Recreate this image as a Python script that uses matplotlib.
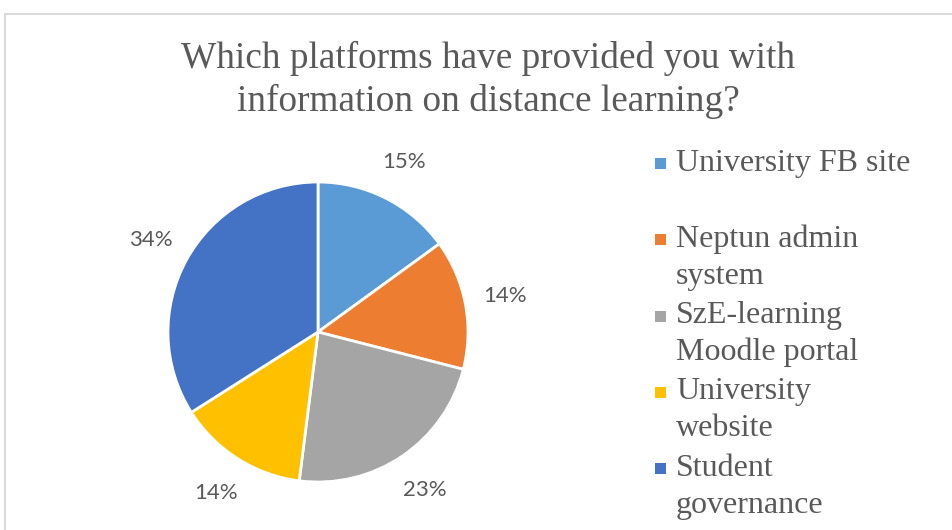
import matplotlib.pyplot as plt
from matplotlib.patches import Rectangle

# survey answers, share of respondents (%)
platforms = ['University FB site', 'Neptun admin\nsystem', 'SzE-learning\nMoodle portal',
             'University\nwebsite', 'Student\ngovernance']
shares = [15, 14, 23, 14, 34]
colors = ['#5B9BD5', '#ED7D31', '#A5A5A5', '#FFC000', '#4472C4']
title = 'Which platforms have provided you with\ninformation on distance learning?'

W, H = 952, 530
fig = plt.figure(figsize=(W / 100, H / 100), dpi=100)
fig.patch.set_facecolor('white')

# chart area border (cut off on the right and bottom)
fig.patches.append(Rectangle((5 / W, -0.05), 1.1, 1 - 14 / H + 0.05, transform=fig.transFigure,
                             fill=False, edgecolor='#d9d9d9', linewidth=1.5))

fig.text(488 / W, 1 - 80 / H, title, ha='center', va='center', fontsize=26.8,
         family='Liberation Serif', color='#595959', linespacing=1.27)

# pie centred at (318, 332) px, radius 150 px
cx, cy, r = 318, 332, 150
ax = fig.add_axes([(cx - r) / W, (H - cy - r) / H, 2 * r / W, 2 * r / H])
wedges, texts, autotexts = ax.pie(shares, colors=colors, startangle=90, counterclock=False,
                                  autopct=lambda p: f'{p:.0f}%', pctdistance=1.27,
                                  wedgeprops=dict(edgecolor='white', linewidth=2))
for t in autotexts:
    t.set_fontfamily('Lato')
    t.set_fontsize(16)
    t.set_color('#595959')
ax.set_xlim(-1, 1)
ax.set_ylim(-1, 1)
ax.set_aspect('equal')
ax.axis('off')

# legend, one slot per platform, marker next to the first line
slot_top = 163
slot_step = 76.3
for i, (lab, col) in enumerate(zip(platforms, colors)):
    y = slot_top + i * slot_step
    fig.patches.append(Rectangle((655 / W, 1 - (y + 6) / H), 11 / W, 11 / H,
                                 transform=fig.transFigure, facecolor=col, edgecolor='none'))
    for j, line in enumerate(lab.split('\n')):
        fig.text(676 / W, 1 - (y + j * 37) / H, line, ha='left', va='center',
                 fontsize=23, family='Liberation Serif', color='#595959')

fig.savefig('out.png', dpi=100)
